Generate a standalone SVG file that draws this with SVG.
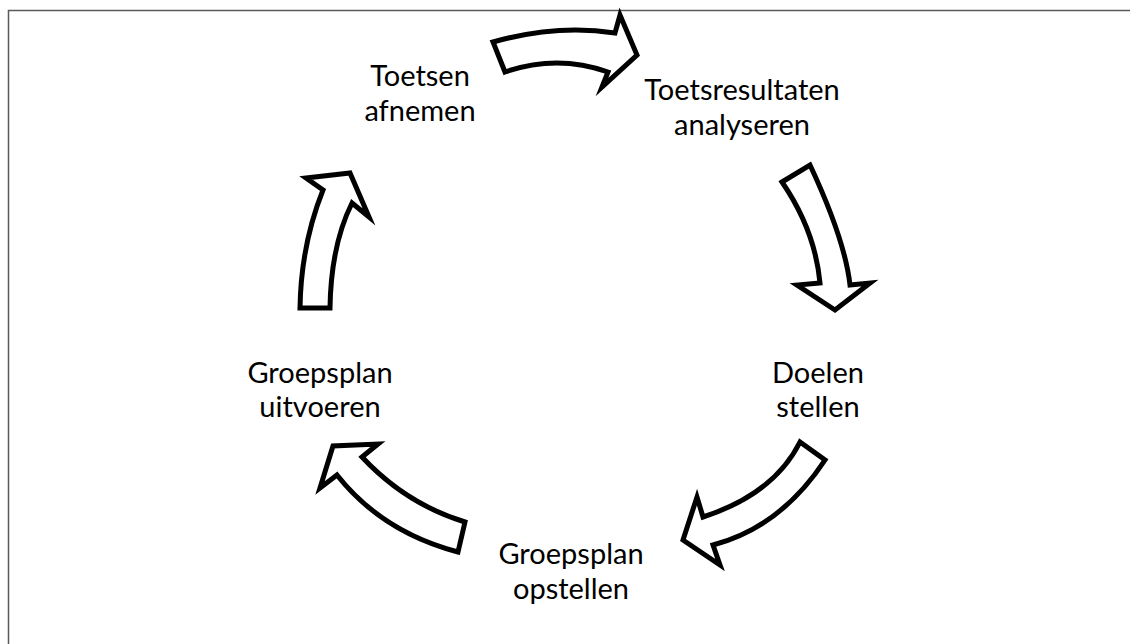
<svg xmlns="http://www.w3.org/2000/svg" width="1130" height="644" viewBox="0 0 1130 644">
<style>
.lbl{font-family:Lato,"Liberation Sans",sans-serif;font-size:29px;fill:#000;text-anchor:middle}
.arr{fill:#fff;stroke:#000;stroke-width:5;stroke-linejoin:miter;stroke-miterlimit:8}
</style>
<rect width="1130" height="644" fill="#fff"/>
<path d="M8.5,644 V10.5 H1130" fill="none" stroke="#5a5a5a" stroke-width="1.5"/>
<g id="connectors">
<path class="arr" d="M493,42 Q557,24 615,33 L620,15 L637,55 L602,87 L608,72 Q557,54 505,72 Z"/>
<path class="arr" d="M782,182 L810,165 Q845,240 850,285 L870,283 L835,310 L797,285 L820,283 Q815,230 782,182 Z"/>
<path class="arr" d="M800,442 L825,460 Q781,527 713,545 L720,565 L683,540 L697,497 L703,517 Q774,494 800,442 Z"/>
<path class="arr" d="M465,522 L458,552 Q382,532 337,475 L320,488 L333,446 L378,444 L362,457 Q406,504 465,522 Z"/>
<path class="arr" d="M300,308 L330,308 Q331,245 352,203 L369,217 L350,173 L306,178 L323,190 Q301,245 300,308 Z"/>
</g>
<g id="n1"><text class="lbl" x="420" y="86">Toetsen</text><text class="lbl" x="420" y="121">afnemen</text></g>
<g id="n2"><text class="lbl" x="742" y="100">Toetsresultaten</text><text class="lbl" x="742" y="135">analyseren</text></g>
<g id="n3"><text class="lbl" x="818" y="383">Doelen</text><text class="lbl" x="818" y="417">stellen</text></g>
<g id="n4"><text class="lbl" x="571" y="564">Groepsplan</text><text class="lbl" x="571" y="599">opstellen</text></g>
<g id="n5"><text class="lbl" x="320" y="383">Groepsplan</text><text class="lbl" x="320" y="417">uitvoeren</text></g>
</svg>
